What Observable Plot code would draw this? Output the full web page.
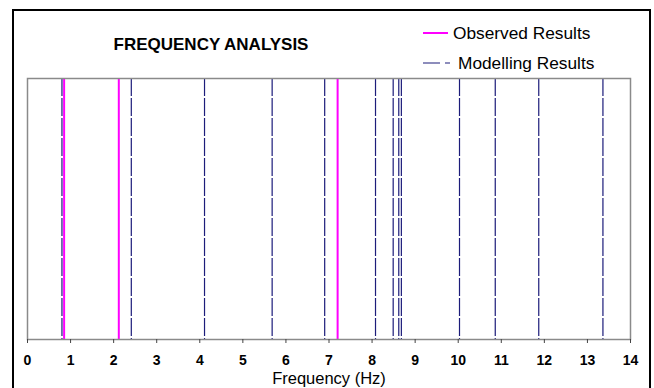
<!DOCTYPE html>
<html>
<head>
<meta charset="utf-8">
<script src="https://cdn.jsdelivr.net/npm/d3@7"></script>
<script src="https://cdn.jsdelivr.net/npm/@observablehq/plot@0.6"></script>
<style>
  html, body { margin: 0; padding: 0; background: #fff; }
  #wrap { position: relative; width: 654px; height: 388px; overflow: hidden; font-family: "Liberation Sans", Arial, sans-serif; }
  #border { position: absolute; left: 12px; top: 9px; width: 639px; height: 420px; border: 2px solid #000; box-sizing: border-box; }
  #title { position: absolute; left: 100px; width: 222px; top: 35px; text-align: center; font-weight: bold; font-size: 17px; line-height: 20px; color: #000; }
  .leg { position: absolute; left: 422px; height: 20px; display: flex; align-items: center; font-size: 17.3px; color: #000; }
  .leg svg { margin-right: 4px; }
  #chart { position: absolute; left: 0; top: 0; }
</style>
</head>
<body>
<div id="wrap">
  <div id="chart"></div>
  <div id="border"></div>
  <div id="title">FREQUENCY ANALYSIS</div>
  <div class="leg" style="top:23px"><svg width="27" height="6"><line x1="1" x2="26" y1="3" y2="3" stroke="#ff00ff" stroke-width="2"/></svg>Observed Results</div>
  <div class="leg" style="top:53px"><svg width="32" height="6"><line x1="1" x2="29" y1="3" y2="3" stroke="#1c1c7a" stroke-width="1.2" stroke-dasharray="17,5,5"/></svg>Modelling Results</div>
</div>
<script>
// Observed frequencies (Hz)
const observed = [0.85, 2.12, 7.2];
// Modelled frequencies (Hz)
const modelled = [0.80, 2.41, 4.11, 5.68, 6.90, 8.08, 8.49, 8.62, 8.68, 10.03, 10.86, 11.87, 13.36];
// x-axis ticks
const xTicks = [0, 1, 2, 3, 4, 5, 6, 7, 8, 9, 10, 11, 12, 13, 14];
const xLabel = "Frequency (Hz)";

const chart = Plot.plot({
  width: 654,
  height: 388,
  marginLeft: 27,
  marginRight: 24,
  marginTop: 78,
  marginBottom: 49,
  style: { fontFamily: "Liberation Sans, Arial, sans-serif", background: "transparent", color: "#000" },
  x: { domain: [0, 14] },
  marks: [
    Plot.ruleX(modelled, { stroke: "#1c1c7a", strokeWidth: 1.2, strokeDasharray: "18,2" }),
    Plot.ruleX(observed, { stroke: "#ff00ff", strokeWidth: 2 }),
    Plot.frame({ stroke: "#8a8a8a", strokeWidth: 1.5 }),
    Plot.axisX({ ticks: xTicks, tickSize: 4, tickPadding: 12, fontWeight: "bold", stroke: "#444", label: null, tickFormat: d => String(d) }),
    Plot.text([xLabel], { frameAnchor: "bottom", dy: 44, fill: "#000" })
  ]
});
document.getElementById("chart").appendChild(chart);
chart.querySelectorAll("text").forEach(t => {
  const isLabel = t.textContent === xLabel;
  t.style.setProperty("font-size", isLabel ? "16.5px" : "14px", "important");
  t.style.setProperty("font-weight", isLabel ? "normal" : "bold", "important");
});
</script>
</body>
</html>
